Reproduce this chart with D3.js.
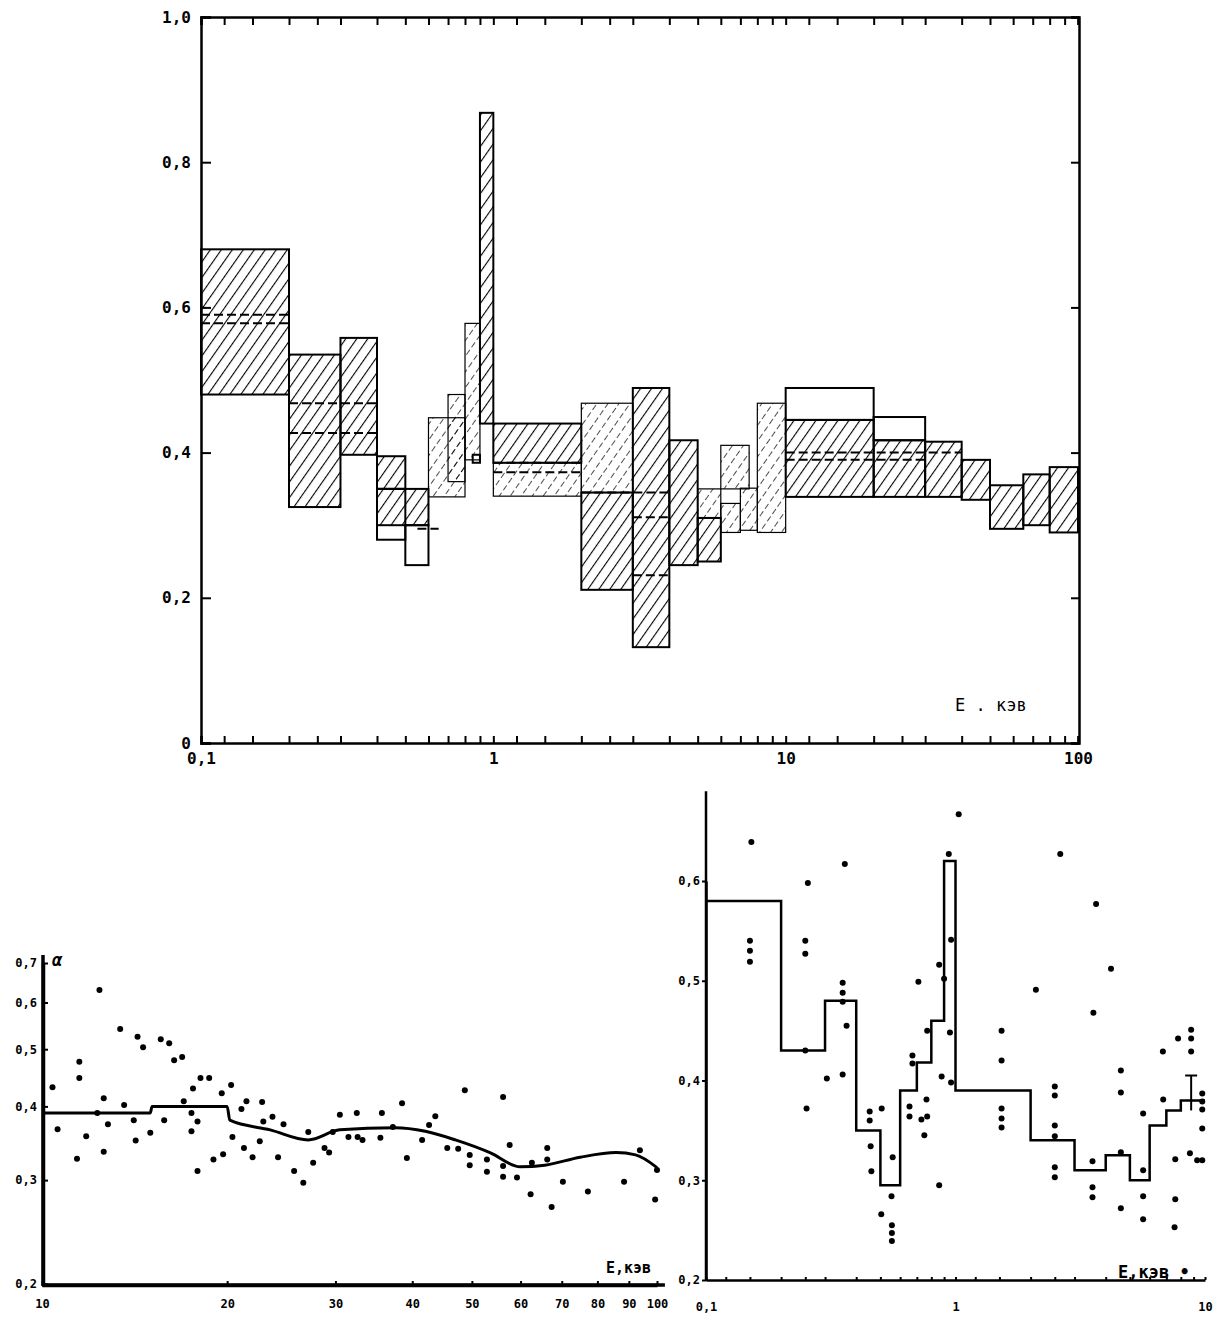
<!DOCTYPE html>
<html>
<head>
<meta charset="UTF-8">
<title>alpha(E)</title>
<script src="https://cdn.jsdelivr.net/npm/d3@7"></script>
<style>
body { margin: 0; background: #fff; }
text { font-family: "DejaVu Sans Mono", monospace; font-weight: bold; fill: #000; }
.tick text { font-size: 16px; }
</style>
</head>
<body>
<script>
// ---- upper panel: bands [E0, E1, alphaLow, alphaHigh] ----
var topSolid = [
	[0.1, 0.2, 0.48, 0.68], [0.2, 0.3, 0.325, 0.535], [0.3, 0.4, 0.397, 0.558],
	[0.4, 0.5, 0.35, 0.395], [0.4, 0.6, 0.30, 0.35], [0.9, 1.0, 0.44, 0.868],
	[1.0, 2.0, 0.386, 0.44], [2.0, 3.0, 0.211, 0.345], [3.0, 4.0, 0.132, 0.489],
	[4.0, 5.0, 0.245, 0.417], [5.0, 6.0, 0.25, 0.31], [10, 20, 0.339, 0.445],
	[20, 30, 0.339, 0.417], [30, 40, 0.339, 0.415], [40, 50, 0.335, 0.39],
	[50, 65, 0.295, 0.355], [65, 80, 0.30, 0.37], [80, 100, 0.29, 0.38]
];
var topLight = [
	[0.6, 0.8, 0.339, 0.448], [0.7, 0.8, 0.36, 0.48], [0.8, 0.9, 0.39, 0.578],
	[1.0, 2.0, 0.34, 0.386], [2.0, 3.0, 0.345, 0.468], [5.0, 6.0, 0.31, 0.35],
	[6.0, 7.0, 0.29, 0.33], [6.0, 7.5, 0.35, 0.41], [7.0, 8.0, 0.293, 0.351],
	[8.0, 10, 0.29, 0.468]
];
var topOpen = [
	[0.4, 0.5, 0.28, 0.35], [0.5, 0.6, 0.245, 0.30], [0.85, 0.9, 0.386, 0.397],
	[10, 20, 0.445, 0.489], [20, 30, 0.417, 0.449]
];
// dashed centre values [E0, E1, alpha]
var topMid = [
	[0.1, 0.2, 0.59], [0.1, 0.2, 0.578], [0.2, 0.4, 0.468], [0.2, 0.4, 0.427],
	[0.55, 0.65, 0.295], [1, 2, 0.386], [1, 2, 0.373], [2, 4, 0.345],
	[3, 4, 0.311], [3, 4, 0.231], [10, 40, 0.40], [10, 30, 0.39]
];
var topYTicks = [0, 0.2, 0.4, 0.6, 0.8, 1.0];
var topXLabels = [0.1, 1, 10, 100];

// ---- lower left panel ----
var blCurve = [[10, 0.39], [15, 0.39], [15.1, 0.40], [20, 0.40], [20.2, 0.379], [23.5, 0.365],
	[27.1, 0.351], [30.5, 0.365], [37.5, 0.368], [42, 0.363], [47, 0.351], [53.5, 0.334],
	[59.9, 0.316], [65.7, 0.318], [75, 0.328], [85.8, 0.334], [92.3, 0.331], [100, 0.315]];
var blPoints = [[10.4, 0.431], [10.6, 0.366], [11.4, 0.326], [11.5, 0.447], [11.5, 0.476], [11.8, 0.356],
	[12.3, 0.39], [12.4, 0.63], [12.6, 0.413], [12.6, 0.335], [12.8, 0.373], [13.4, 0.541], [13.6, 0.402],
	[14.1, 0.379], [14.2, 0.35], [14.3, 0.525], [14.6, 0.504], [15.0, 0.361], [15.6, 0.52], [15.8, 0.379],
	[16.1, 0.512], [16.4, 0.479], [16.9, 0.485], [17.0, 0.408], [17.5, 0.39], [17.5, 0.363], [17.6, 0.429],
	[17.9, 0.377], [17.9, 0.311], [18.1, 0.447], [18.7, 0.447], [19.0, 0.325], [19.6, 0.421], [19.7, 0.332],
	[20.3, 0.435], [20.4, 0.355], [21.1, 0.396], [21.3, 0.34], [21.5, 0.408], [22.0, 0.328], [22.6, 0.349],
	[22.8, 0.407], [22.9, 0.377], [23.7, 0.384], [24.2, 0.328], [24.7, 0.373], [25.7, 0.311], [26.6, 0.297],
	[27.1, 0.362], [27.6, 0.321], [28.8, 0.34], [29.3, 0.334], [29.7, 0.362], [30.5, 0.387], [31.5, 0.355],
	[32.5, 0.39], [32.6, 0.355], [33.2, 0.351], [35.5, 0.354], [35.7, 0.39], [37.2, 0.369], [38.5, 0.405],
	[39.2, 0.327], [41.5, 0.351], [42.6, 0.372], [43.6, 0.385], [45.6, 0.34], [47.5, 0.339], [48.7, 0.426],
	[49.6, 0.331], [49.6, 0.318], [52.9, 0.31], [52.9, 0.325], [56.2, 0.415], [56.2, 0.317], [56.2, 0.304],
	[57.6, 0.344], [59.2, 0.303], [62.3, 0.284], [62.6, 0.321], [66.3, 0.34], [66.3, 0.325], [67.4, 0.27],
	[70.3, 0.298], [77.2, 0.287], [88.4, 0.298], [93.8, 0.337], [99.3, 0.278], [100, 0.312]];
var blYTicks = [0.2, 0.3, 0.4, 0.5, 0.6, 0.7];
var blXTicks = [10, 20, 30, 40, 50, 60, 70, 80, 90, 100];

// ---- lower right panel ----
var brStep = [[0.1, 0.58], [0.2, 0.43], [0.3, 0.48], [0.4, 0.35], [0.5, 0.295], [0.6, 0.39],
	[0.7, 0.418], [0.8, 0.46], [0.9, 0.62], [1.0, 0.39], [2.0, 0.34], [3.0, 0.31], [4.0, 0.325],
	[5.0, 0.30], [6.0, 0.355], [7.0, 0.37], [8.0, 0.38], [10, 0.38]];
var brPoints = [[0.152, 0.639], [0.15, 0.54], [0.15, 0.53], [0.15, 0.519], [0.256, 0.598], [0.25, 0.54],
	[0.25, 0.527], [0.253, 0.372], [0.25, 0.43], [0.305, 0.402], [0.353, 0.406], [0.36, 0.617],
	[0.353, 0.498], [0.353, 0.488], [0.353, 0.479], [0.366, 0.455], [0.453, 0.369], [0.453, 0.36],
	[0.506, 0.372], [0.457, 0.334], [0.46, 0.309], [0.504, 0.266], [0.554, 0.284], [0.556, 0.255],
	[0.556, 0.247], [0.556, 0.239], [0.56, 0.323], [0.654, 0.374], [0.654, 0.364], [0.672, 0.425],
	[0.672, 0.417], [0.765, 0.381], [0.73, 0.361], [0.77, 0.364], [0.75, 0.345], [0.71, 0.499],
	[0.77, 0.45], [0.86, 0.516], [0.9, 0.502], [0.88, 0.404], [0.86, 0.295], [0.94, 0.627],
	[1.03, 0.667], [0.96, 0.541], [0.95, 0.448], [0.96, 0.398], [2.63, 0.627], [3.66, 0.577],
	[4.2, 0.512], [3.57, 0.468], [2.1, 0.491], [1.53, 0.45], [1.53, 0.42], [1.53, 0.372],
	[1.53, 0.362], [1.53, 0.353], [2.5, 0.394], [2.5, 0.385], [2.5, 0.355], [2.5, 0.344],
	[2.5, 0.313], [2.5, 0.303], [3.54, 0.319], [3.54, 0.293], [3.54, 0.283], [4.6, 0.328],
	[4.6, 0.272], [4.6, 0.41], [4.6, 0.388], [5.65, 0.367], [5.65, 0.284], [5.65, 0.261],
	[5.65, 0.31], [6.78, 0.429], [7.8, 0.442], [8.8, 0.451], [8.8, 0.442], [8.8, 0.429],
	[6.8, 0.381], [7.6, 0.321], [7.6, 0.281], [7.55, 0.253], [8.7, 0.327], [9.3, 0.32],
	[9.75, 0.32], [9.75, 0.387], [9.75, 0.379], [9.75, 0.371], [9.75, 0.352]];
var brErr = [[8.8, 0.37, 0.405]];
var brYTicks = [0.2, 0.3, 0.4, 0.5, 0.6];
var brXLabels = [0.1, 1, 10];

var comma = function(d) { return d === 0 ? "0" : d3.format(".1f")(d).replace(".", ","); };
// log minor ticks
function logTicks(lo, hi) {
	var out = [];
	var m = [1, 1.2, 1.5, 2, 2.5, 3, 4, 5, 6, 7, 8, 9];
	for (var p = lo; p < hi; p *= 10) m.forEach(function(k) { out.push(+(p * k).toPrecision(3)); });
	out.push(hi);
	return out;
}

var svg = d3.select("body").append("svg")
	.attr("width", 1220)
	.attr("height", 1327);

var defs = svg.append("defs");
defs.append("pattern").attr("id", "hs")
	.attr("patternUnits", "userSpaceOnUse").attr("width", 9).attr("height", 9)
	.attr("patternTransform", "rotate(35)")
	.append("line").attr("x1", 0).attr("y1", 0).attr("x2", 0).attr("y2", 9)
	.attr("stroke", "#000").attr("stroke-width", 2.2);
defs.append("pattern").attr("id", "hl")
	.attr("patternUnits", "userSpaceOnUse").attr("width", 9).attr("height", 9)
	.attr("patternTransform", "rotate(35)")
	.append("line").attr("x1", 0).attr("y1", 0).attr("x2", 0).attr("y2", 9)
	.attr("stroke", "#000").attr("stroke-width", 1.4).attr("stroke-dasharray", "5,3");

// ================= upper panel =================
var xTop = d3.scaleLog().domain([0.1, 100]).range([201, 1078]);
var yTop = d3.scaleLinear().domain([0, 1]).range([743, 17]);
var gt = svg.append("g");

function bands(data, fill, sw) {
	gt.append("g").selectAll("rect").data(data).enter().append("rect")
		.attr("x", function(d) { return xTop(d[0]); })
		.attr("width", function(d) { return xTop(d[1]) - xTop(d[0]); })
		.attr("y", function(d) { return yTop(d[3]); })
		.attr("height", function(d) { return yTop(d[2]) - yTop(d[3]); })
		.attr("fill", fill)
		.attr("stroke", "#000")
		.attr("stroke-width", sw);
}
bands(topLight, "url(#hl)", 1.2);
bands(topSolid, "url(#hs)", 2);
bands(topOpen, "none", 2);

gt.append("g").selectAll("line").data(topMid).enter().append("line")
	.attr("x1", function(d) { return xTop(d[0]); })
	.attr("x2", function(d) { return xTop(d[1]); })
	.attr("y1", function(d) { return yTop(d[2]); })
	.attr("y2", function(d) { return yTop(d[2]); })
	.attr("stroke", "#000").attr("stroke-width", 2)
	.attr("stroke-dasharray", "9,4");

// frame and axes
gt.append("g").attr("transform", "translate(201,0)")
	.call(d3.axisLeft(yTop).tickValues(topYTicks).tickSize(-10).tickPadding(10).tickFormat(comma));
gt.append("g").attr("transform", "translate(1079,0)")
	.call(d3.axisRight(yTop).tickValues(topYTicks).tickSize(-8).tickFormat(""));
gt.append("g").attr("transform", "translate(0,17)")
	.call(d3.axisTop(xTop).tickValues(logTicks(0.1, 100)).tickSize(-8).tickFormat(""));
gt.append("g").attr("transform", "translate(0,743)")
	.call(d3.axisBottom(xTop).tickValues(logTicks(0.1, 100)).tickSize(-7).tickPadding(10)
		.tickFormat(function(d) { return topXLabels.indexOf(d) >= 0 ? (d === 0.1 ? "0,1" : d) : ""; }));
gt.selectAll(".domain").attr("stroke-width", 2.5);
gt.selectAll(".tick line").attr("stroke-width", 2);
gt.append("text").attr("x", 955).attr("y", 711).style("font-size", "17px").style("font-weight", "normal")
	.text("Е . кэв");

// ================= lower left panel =================
var xBL = d3.scaleLog().domain([10, 100]).range([42, 657]);
var yBL = d3.scaleLog().domain([0.2, 0.7]).range([1284, 963]);
var gl = svg.append("g");

gl.append("g").attr("transform", "translate(43,0)")
	.call(d3.axisLeft(yBL).tickValues(blYTicks).tickSize(-5).tickPadding(6).tickFormat(comma).tickSizeOuter(0));
gl.append("g").attr("transform", "translate(0,1285)")
	.call(d3.axisBottom(xBL).tickValues(blXTicks).tickSize(-4).tickPadding(14).tickSizeOuter(0));
gl.selectAll(".domain").attr("stroke-width", 3.5);
gl.selectAll(".tick line").attr("stroke-width", 2);
gl.selectAll(".tick text").style("font-size", "12px");
gl.append("line").attr("x1", 43).attr("x2", 43).attr("y1", 955).attr("y2", 1286)
	.attr("stroke", "#000").attr("stroke-width", 3.5);
gl.append("line").attr("x1", 42).attr("x2", xBL(103)).attr("y1", 1285).attr("y2", 1285)
	.attr("stroke", "#000").attr("stroke-width", 3.5);

gl.append("path").datum(blCurve)
	.attr("d", d3.line().x(function(d) { return xBL(d[0]); }).y(function(d) { return yBL(d[1]); })
		.curve(d3.curveMonotoneX))
	.attr("fill", "none").attr("stroke", "#000").attr("stroke-width", 3);
gl.selectAll("circle").data(blPoints).enter().append("circle")
	.attr("cx", function(d) { return xBL(d[0]); })
	.attr("cy", function(d) { return yBL(d[1]); })
	.attr("r", 3).attr("fill", "#000");
gl.append("text").attr("x", 52).attr("y", 966).style("font-size", "17px").style("font-style", "italic").text("α");
gl.append("text").attr("x", 606).attr("y", 1273).style("font-size", "15px").text("Е,кэв");

// ================= lower right panel =================
var xBR = d3.scaleLog().domain([0.1, 10]).range([706, 1205]);
var yBR = d3.scaleLinear().domain([0.2, 0.6]).range([1280, 881]);
var gr = svg.append("g");

gr.append("g").attr("transform", "translate(706,0)")
	.call(d3.axisLeft(yBR).tickValues(brYTicks).tickSize(4).tickPadding(2).tickFormat(comma).tickSizeOuter(0));
gr.append("g").attr("transform", "translate(0,1280)")
	.call(d3.axisBottom(xBR).tickValues(logTicks(0.1, 10)).tickSize(-3).tickPadding(22).tickSizeOuter(0)
		.tickFormat(function(d) { return brXLabels.indexOf(d) >= 0 ? (d === 0.1 ? "0,1" : d) : ""; }));
gr.selectAll(".domain").attr("stroke-width", 2.5);
gr.selectAll(".tick line").attr("stroke-width", 2);
gr.selectAll(".tick text").style("font-size", "12px");
gr.append("line").attr("x1", 706).attr("x2", 706).attr("y1", yBR(0.69)).attr("y2", 1281)
	.attr("stroke", "#000").attr("stroke-width", 2.5);

gr.append("path").datum(brStep)
	.attr("d", d3.line().x(function(d) { return xBR(d[0]); }).y(function(d) { return yBR(d[1]); })
		.curve(d3.curveStepAfter))
	.attr("fill", "none").attr("stroke", "#000").attr("stroke-width", 2.5);
gr.selectAll("circle").data(brPoints).enter().append("circle")
	.attr("cx", function(d) { return xBR(d[0]); })
	.attr("cy", function(d) { return yBR(d[1]); })
	.attr("r", 3).attr("fill", "#000");
// error bar
var eb = gr.append("g").selectAll("g").data(brErr).enter().append("g");
eb.append("line")
	.attr("x1", function(d) { return xBR(d[0]); }).attr("x2", function(d) { return xBR(d[0]); })
	.attr("y1", function(d) { return yBR(d[1]); }).attr("y2", function(d) { return yBR(d[2]); })
	.attr("stroke", "#000").attr("stroke-width", 2);
eb.append("line")
	.attr("x1", function(d) { return xBR(d[0]) - 6; }).attr("x2", function(d) { return xBR(d[0]) + 6; })
	.attr("y1", function(d) { return yBR(d[2]); }).attr("y2", function(d) { return yBR(d[2]); })
	.attr("stroke", "#000").attr("stroke-width", 2);
gr.append("text").attr("x", 1118).attr("y", 1278).style("font-size", "17px").text("Е,кэв •");
</script>
</body>
</html>
